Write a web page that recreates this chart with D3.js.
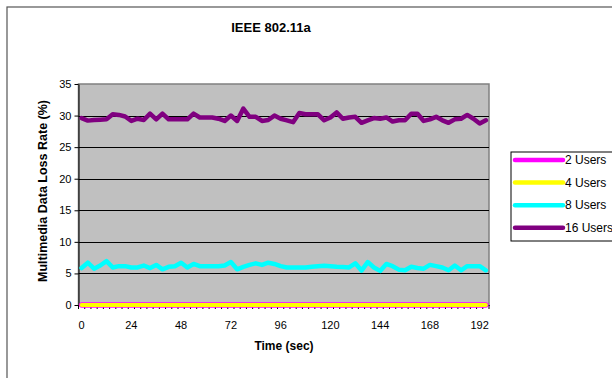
<!DOCTYPE html>
<html>
<head>
<meta charset="utf-8">
<script src="https://cdn.jsdelivr.net/npm/d3@7"></script>
<style>
  html, body { margin: 0; padding: 0; background: #fff; }
  svg { display: block; font-family: "Liberation Sans", Arial, sans-serif; }
</style>
</head>
<body>
<svg id="chart" width="612" height="378"></svg>
<script>
// ---- Chart data ----
const chartTitle = "IEEE 802.11a";
const xTitle = "Time (sec)";
const yTitle = "Multimedia Data Loss Rate (%)";

// sample times (sec), one category per sample
const times = [0,3,6,9,12,15,18,21,24,27,30,33,36,39,42,45,48,51,54,57,60,63,66,69,72,75,78,81,84,87,90,93,96,99,
  102,105,108,111,114,117,120,123,126,129,132,135,138,141,144,147,150,153,156,159,162,165,168,171,174,177,180,183,186,189,192,195];
const xTickLabels = [0,24,48,72,96,120,144,168,192];
const yTicks = [0,5,10,15,20,25,30,35];

const seriesNames = ["2 Users", "4 Users", "8 Users", "16 Users"];
const seriesColors = ["#FF00FF", "#FFFF00", "#00FFFF", "#800080"];

const users2 = [0,0,0,0,0,0,0,0,0,0,0,0,0,0,0,0,0,0,0,0,0,0,0,0,0,0,0,0,0,0,0,0,0,
  0,0,0,0,0,0,0,0,0,0,0,0,0,0,0,0,0,0,0,0,0,0,0,0,0,0,0,0,0,0,0,0,0];
const users4 = [0,0,0,0,0,0,0,0,0,0,0,0,0,0,0,0,0,0,0,0,0,0,0,0,0,0,0,0,0,0,0,0,0,
  0,0,0,0,0,0,0,0,0,0,0,0,0,0,0,0,0,0,0,0,0,0,0,0,0,0,0,0,0,0,0,0,0];
const users8 = [5.85,6.7,5.75,6.25,6.95,5.95,6.15,6.15,5.95,5.95,6.25,5.85,6.35,5.65,6.05,6.15,6.7,5.95,6.5,6.15,6.15,6.15,6.15,6.25,6.8,5.65,6.05,6.35,6.6,6.35,6.7,6.5,6.15,
  5.95,5.95,5.95,5.95,6.05,6.15,6.2,6.15,6.05,6.0,5.95,6.6,5.45,6.8,5.95,5.4,6.5,6.15,5.6,5.5,6.05,5.85,5.75,6.35,6.15,5.95,5.5,6.25,5.5,6.15,6.15,6.15,5.5];
const users16 = [29.6,29.2,29.3,29.35,29.4,30.2,30.1,29.85,29.15,29.5,29.3,30.3,29.4,30.3,29.4,29.4,29.4,29.4,30.3,29.7,29.7,29.7,29.5,29.15,30.0,29.15,31.1,29.8,29.8,29.15,29.3,30.0,29.5,
  29.25,28.95,30.4,30.2,30.2,30.2,29.25,29.7,30.5,29.5,29.7,29.8,28.85,29.25,29.6,29.5,29.7,29.05,29.25,29.25,30.3,30.3,29.15,29.4,29.8,29.25,28.85,29.4,29.5,30.1,29.5,28.75,29.25];

const seriesValues = [users2, users4, users8, users16];

// ---- Layout ----
const plot = { left: 78.5, right: 489, top: 84, bottom: 305 };

const svg = d3.select("#chart");

// outer chart frame
svg.append("rect")
  .attr("x", 7).attr("y", 7).attr("width", 640).attr("height", 400)
  .attr("fill", "#fff").attr("stroke", "#555").attr("stroke-width", 1.2);

// title
svg.append("text")
  .attr("x", 271).attr("y", 32)
  .attr("text-anchor", "middle")
  .attr("font-size", 13).attr("font-weight", "bold")
  .text(chartTitle);

// scales
const x = d3.scaleBand().domain(times).range([plot.left, plot.right]).padding(0);
const xc = t => x(t) + x.bandwidth() / 2;
const y = d3.scaleLinear().domain([0, 35]).range([plot.bottom, plot.top]);

// plot background
svg.append("rect")
  .attr("x", plot.left).attr("y", plot.top)
  .attr("width", plot.right - plot.left).attr("height", plot.bottom - plot.top)
  .attr("fill", "#C0C0C0").attr("stroke", "#808080").attr("stroke-width", 1.5);

// horizontal gridlines
svg.append("g")
  .selectAll("line")
  .data(yTicks.filter(v => v > 0 && v < 35))
  .join("line")
  .attr("x1", plot.left).attr("x2", plot.right)
  .attr("y1", d => Math.round(y(d)) + 0.5).attr("y2", d => Math.round(y(d)) + 0.5)
  .attr("stroke", "#000").attr("stroke-width", 1);

// y axis
const yAxis = svg.append("g")
  .attr("transform", `translate(${plot.left},0)`)
  .call(d3.axisLeft(y).tickValues(yTicks).tickSize(4).tickPadding(3).tickSizeOuter(0));
yAxis.select(".domain").attr("stroke", "#000");
yAxis.selectAll(".tick line").attr("stroke", "#000");
yAxis.selectAll("text").attr("font-size", 11).attr("font-family", "Liberation Sans, Arial, sans-serif").attr("fill", "#000");

// x axis line and category tick marks
const boundaries = times.map(t => x(t)).concat([x.range()[1]]);
svg.append("g")
  .selectAll("line")
  .data(boundaries)
  .join("line")
  .attr("x1", d => d).attr("x2", d => d)
  .attr("y1", plot.bottom).attr("y2", plot.bottom + 4)
  .attr("stroke", "#000").attr("stroke-width", 1);

const xAxis = svg.append("g")
  .attr("transform", `translate(0,${plot.bottom})`)
  .call(d3.axisBottom(x).tickValues(xTickLabels).tickSize(0).tickSizeOuter(0).tickPadding(16));
xAxis.select(".domain").attr("stroke", "#000");
xAxis.selectAll("text").attr("font-size", 11).attr("font-family", "Liberation Sans, Arial, sans-serif").attr("fill", "#000");

// axis titles
svg.append("text")
  .attr("x", 284).attr("y", 350)
  .attr("text-anchor", "middle")
  .attr("font-size", 12).attr("font-weight", "bold")
  .text(xTitle);

svg.append("text")
  .attr("transform", "translate(47,191) rotate(-90)")
  .attr("text-anchor", "middle")
  .attr("font-size", 12.5).attr("font-weight", "bold")
  .text(yTitle);

// series lines
const line = d3.line()
  .x((d, i) => xc(times[i]))
  .y(d => y(d));

const lineWidths = [5.5, 4, 4.5, 4.5];
svg.append("g")
  .selectAll("path")
  .data(seriesValues)
  .join("path")
  .attr("d", d => line(d))
  .attr("fill", "none")
  .attr("stroke", (d, i) => seriesColors[i])
  .attr("stroke-width", (d, i) => lineWidths[i])
  .attr("stroke-linejoin", "round")
  .attr("stroke-linecap", "round");

// legend
const legend = svg.append("g");
legend.append("rect")
  .attr("x", 511).attr("y", 152).attr("width", 130).attr("height", 89)
  .attr("fill", "#fff").attr("stroke", "#000").attr("stroke-width", 1);

const rows = legend.selectAll("g.row")
  .data(seriesNames)
  .join("g")
  .attr("class", "row")
  .attr("transform", (d, i) => `translate(0,${160 + i * 22.6})`);
rows.append("line")
  .attr("x1", 515).attr("x2", 563)
  .attr("y1", 0).attr("y2", 0)
  .attr("stroke", (d, i) => seriesColors[i])
  .attr("stroke-width", 4.5)
  .attr("stroke-linecap", "round");
rows.append("text")
  .attr("x", 565).attr("y", 0).attr("dy", "0.35em")
  .attr("font-size", 12)
  .text(d => d);
</script>
</body>
</html>
